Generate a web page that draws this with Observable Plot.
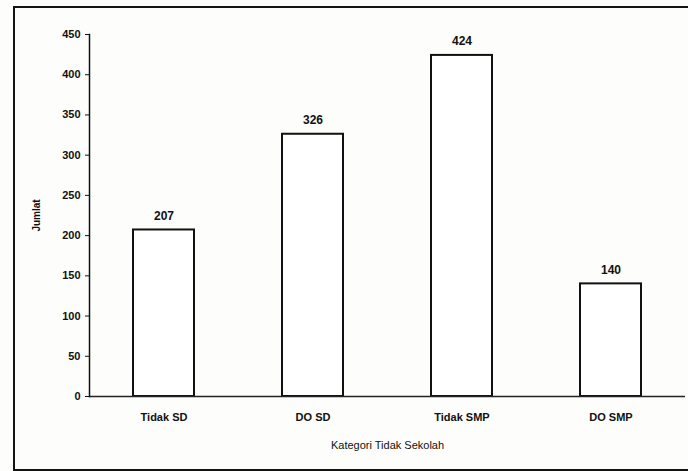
<!DOCTYPE html>
<html>
<head>
<meta charset="utf-8">
<script src="https://cdn.jsdelivr.net/npm/d3@7"></script>
<script src="https://cdn.jsdelivr.net/npm/@observablehq/plot@0.6"></script>
<style>
  html, body { margin: 0; padding: 0; background: #fff; overflow: hidden; }
  #wrap { position: relative; width: 688px; height: 471px; overflow: hidden; background: #fdfdfb; }
  #frame { position: absolute; left: 13px; top: 6px; width: 720px; height: 465px; border: 2px solid #141414; box-sizing: border-box; }
  #chart { position: absolute; left: 0; top: 0; }
</style>
</head>
<body>
<div id="wrap">
  <div id="frame"></div>
  <div id="chart"></div>
</div>
<script>
const categories = ["Tidak SD", "DO SD", "Tidak SMP", "DO SMP"];
const values = [207, 326, 424, 140];
const yTicks = [0, 50, 100, 150, 200, 250, 300, 350, 400, 450];

const data = categories.map((c, i) => ({category: c, value: values[i]}));
const font = "Liberation Sans, Arial, sans-serif";

const chart = Plot.plot({
  width: 688,
  height: 471,
  marginLeft: 89,
  marginRight: 3,
  marginTop: 34,
  marginBottom: 75,
  style: {background: "transparent", fontFamily: font, color: "#111"},
  x: {domain: categories, paddingInner: 0.59, paddingOuter: 0.295},
  y: {domain: [0, 450]},
  marks: [
    Plot.barY(data, {x: "category", y: "value", fill: "white", stroke: "#111", strokeWidth: 2}),
    Plot.ruleY([0], {stroke: "#222", strokeWidth: 1.5}),
    Plot.frame({anchor: "left", stroke: "#111", strokeWidth: 1.5}),
    Plot.text(data, {x: "category", y: "value", text: d => String(d.value), lineAnchor: "bottom", dy: -10, fontSize: 12, fontWeight: "bold", fill: "#111"}),
    Plot.axisY({ticks: yTicks, tickSize: 4, tickPadding: 5, fontSize: 11, fontWeight: "bold",
      label: "Jumlat", labelAnchor: "center", labelOffset: 57, labelArrow: "none"}),
    Plot.axisX({tickSize: 0, tickPadding: 17, fontSize: 11, fontWeight: "bold",
      label: "Kategori Tidak Sekolah", labelAnchor: "center", labelOffset: 52, labelArrow: "none"})
  ]
});
chart.querySelectorAll("g[aria-label='y-axis label'] text").forEach(t => { t.setAttribute("font-weight", "bold"); t.setAttribute("font-size", "10"); });
chart.querySelectorAll("g[aria-label='x-axis label']").forEach(g => { g.setAttribute("font-weight", "normal"); });
chart.querySelectorAll("g[aria-label='x-axis label'] text").forEach(t => { t.setAttribute("font-size", "11"); t.setAttribute("font-weight", "normal"); });
document.getElementById("chart").appendChild(chart);
</script>
</body>
</html>
